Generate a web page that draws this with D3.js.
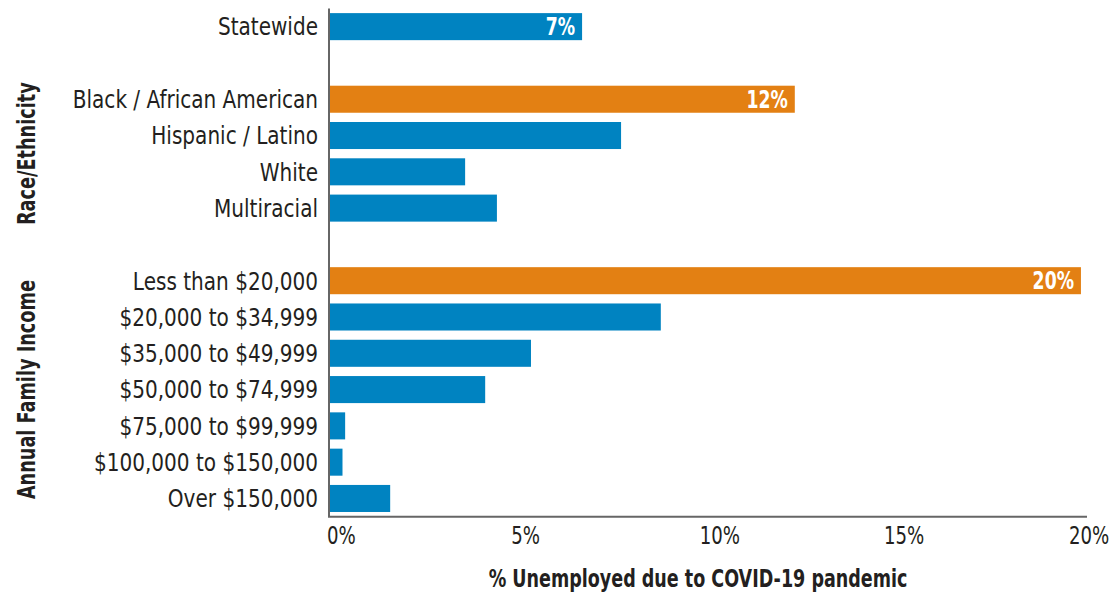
<!DOCTYPE html>
<html>
<head>
<meta charset="utf-8">
<script src="https://cdn.jsdelivr.net/npm/d3@7"></script>
<style>
  html, body { margin: 0; padding: 0; background: #fff; }
  svg { display: block; }
  text { font-family: "DejaVu Sans Condensed", "DejaVu Sans", sans-serif; }
</style>
</head>
<body>
<svg id="chart" width="1115" height="593"></svg>
<script>
// ---- data ----
const categories = [
  "Statewide", "", "Black / African American", "Hispanic / Latino", "White", "Multiracial",
  " ", "Less than $20,000", "$20,000 to $34,999", "$35,000 to $49,999",
  "$50,000 to $74,999", "$75,000 to $99,999", "$100,000 to $150,000", "Over $150,000"
];
const values = [6.66, null, 12.28, 7.69, 3.57, 4.41, null, 19.84, 8.74, 5.31, 4.10, 0.40, 0.33, 1.59];
const highlighted = [false, false, true, false, false, false, false, true, false, false, false, false, false, false];
const valueLabels = ["7%", "", "12%", "", "", "", "", "20%", "", "", "", "", "", ""];
const xTicks = [0, 5, 10, 15, 20];
const groups = [
  { name: "Race/Ethnicity", first: "Black / African American", last: "Multiracial" },
  { name: "Annual Family Income", first: "Less than $20,000", last: "Over $150,000" }
];
const xTitle = "% Unemployed due to COVID-19 pandemic";

// ---- layout ----
const BLUE = "#0083c1", ORANGE = "#e38013", INK = "#231f20";
const mLeft = 330, mRight = 1087, mTop = 8.4, mBottom = 516.7;
const svg = d3.select("#chart");

const x = d3.scaleLinear().domain([0, 20]).range([mLeft, mRight]);
const y = d3.scaleBand().domain(categories).range([mTop, mBottom]).paddingInner(0.255).paddingOuter(0.13);

const rows = categories.map((c, i) => ({ c, v: values[i], hi: highlighted[i], lab: valueLabels[i] }));

// bars
svg.append("g").selectAll("rect")
  .data(rows.filter(d => d.v !== null))
  .join("rect")
  .attr("x", x(0))
  .attr("y", d => y(d.c))
  .attr("width", d => x(d.v) - x(0))
  .attr("height", y.bandwidth())
  .attr("fill", d => d.hi ? ORANGE : BLUE);

// value labels
svg.append("g").selectAll("text")
  .data(rows.filter(d => d.lab))
  .join("text")
  .attr("transform", d => `translate(${x(d.v) - 7},${y(d.c) + y.bandwidth() / 2}) scale(0.8,1)`)
  .attr("dy", "0.36em")
  .attr("text-anchor", "end")
  .attr("fill", "#fff")
  .attr("font-weight", "bold")
  .attr("font-size", 24)
  .text(d => d.lab);

// category labels
svg.append("g").selectAll("text")
  .data(rows.filter(d => d.c.trim() !== ""))
  .join("text")
  .attr("transform", d => `translate(${mLeft - 12},${y(d.c) + y.bandwidth() / 2}) scale(0.91,1)`)
  .attr("dy", "0.36em")
  .attr("text-anchor", "end")
  .attr("fill", INK)
  .attr("font-size", 24.5)
  .text(d => d.c);

// axes lines
const yAxis = d3.axisLeft(y).tickSize(0).tickFormat("");
svg.append("g").attr("transform", `translate(${mLeft - 1},0)`).call(yAxis)
  .call(g => g.select(".domain").attr("stroke", "#666").attr("stroke-width", 2).attr("d", `M0,${mTop}V${mBottom}`));

const xAxis = d3.axisBottom(x).tickValues(xTicks).tickSize(0).tickFormat(d => d + "%");
svg.append("g").attr("transform", `translate(0,${mBottom})`).call(xAxis)
  .call(g => g.select(".domain").attr("stroke", "#666").attr("stroke-width", 2).attr("d", `M${mLeft - 2},0H${mRight}`))
  .call(g => g.selectAll(".tick text")
    .attr("font-family", "\"DejaVu Sans Condensed\", \"DejaVu Sans\", sans-serif")
    .attr("font-size", 24)
    .attr("fill", INK)
    .attr("y", 10)
    .attr("transform", "scale(0.84,1)")
    .attr("dx", (d, i) => (i === xTicks.length - 1 ? 2 : (i % 2 === 0 ? 13 : 7))));

// group labels
groups.forEach(gr => {
  const y0 = y(gr.first), y1 = y(gr.last) + y.bandwidth();
  const cy = (y0 + y1) / 2;
  svg.append("text")
    .attr("transform", `translate(35,${cy}) rotate(-90) scale(0.82,1)`)
    .attr("text-anchor", "middle")
    .attr("font-weight", "bold")
    .attr("font-size", 24)
    .attr("fill", INK)
    .text(gr.name);
});

// x title
svg.append("text")
  .attr("transform", `translate(698,586.5) scale(0.78,1)`)
  .attr("text-anchor", "middle")
  .attr("font-weight", "bold")
  .attr("font-size", 25)
  .attr("fill", INK)
  .text(xTitle);
</script>
</body>
</html>
